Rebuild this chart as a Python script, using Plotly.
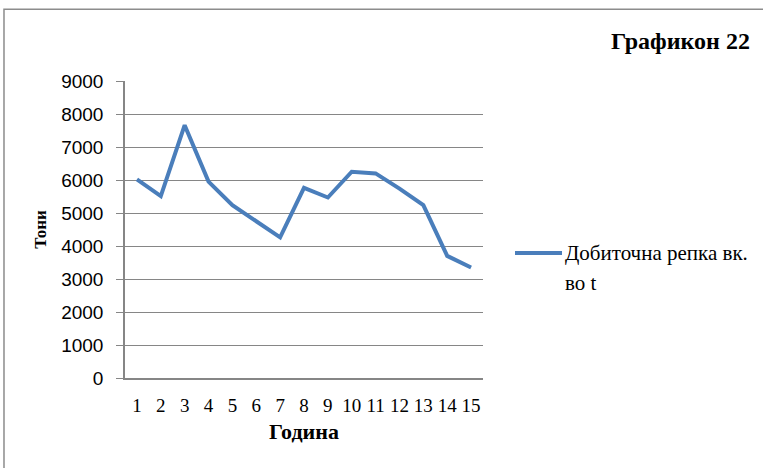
import plotly.graph_objects as go

years = [str(i) for i in range(1, 16)]
values = [6020, 5510, 7660, 5950, 5240, 4750, 4260, 5760, 5470, 6250, 6200, 5740, 5240, 3700, 3350]
legend_lines = ["Добиточна репка вк.", "во t"]
y_ticks = [0, 1000, 2000, 3000, 4000, 5000, 6000, 7000, 8000, 9000]
chart_title = "Графикон 22"
x_title = "Година"
y_title = "Тони"

SERIF = "Liberation Serif"
SANS = "Liberation Sans"
LINE_COLOR = "#4a7ebb"
GRID = "#868686"

fig = go.Figure()
fig.add_trace(go.Scatter(
    x=years, y=values, mode="lines", name=" ".join(legend_lines),
    line=dict(color=LINE_COLOR, width=4), showlegend=False,
))

fig.update_layout(
    width=763, height=468,
    margin=dict(l=125, r=280, t=81, b=90),
    paper_bgcolor="white", plot_bgcolor="white",
    font=dict(family=SERIF, size=17, color="black"),
    showlegend=False,
    xaxis=dict(type="category", range=[-0.5, 14.5], showgrid=False, showline=True,
               linecolor=GRID, linewidth=1.5, ticks="", ticklabelstandoff=9,
               tickfont=dict(family=SERIF, size=19, color="black"),
               title=dict(text="<b>" + x_title + "</b>",
                          font=dict(family=SERIF, size=22, color="black"), standoff=9)),
    yaxis=dict(range=[0, 9000], tickvals=y_ticks, showgrid=True, gridcolor=GRID,
               gridwidth=1.3, showline=True, linecolor=GRID, linewidth=1.5,
               ticks="outside", ticklen=7, tickcolor=GRID, tickwidth=1.3,
               zeroline=False, ticklabelstandoff=9,
               tickfont=dict(family=SANS, size=19, color="black"),
               title=dict(text="<b>" + y_title + "</b>",
                          font=dict(family=SERIF, size=17, color="black"), standoff=10)),
    annotations=[
        dict(text="<b>" + chart_title + "</b>", xref="paper", yref="paper",
             x=1.751, y=1.135, xanchor="right", yanchor="middle",
             showarrow=False, font=dict(family=SERIF, size=24, color="black")),
        dict(text=legend_lines[0], xref="paper", yref="paper",
             x=1.2235, y=0.4209, xanchor="left", yanchor="middle",
             showarrow=False, font=dict(family=SERIF, size=21, color="black")),
        dict(text=legend_lines[1], xref="paper", yref="paper",
             x=1.2235, y=0.3199, xanchor="left", yanchor="middle",
             showarrow=False, font=dict(family=SERIF, size=21, color="black")),
    ],
    shapes=[
        dict(type="rect", xref="paper", yref="paper", x0=-0.338, x1=1.9,
             y0=-0.5, y1=1.242, line=dict(color="#8c8c8c", width=1.5),
             fillcolor="rgba(0,0,0,0)", layer="below"),
        dict(type="line", xref="paper", yref="paper", x0=1.0894, x1=1.2207,
             y0=0.4209, y1=0.4209, line=dict(color=LINE_COLOR, width=4)),
    ],
)

fig.write_html("out.html", config={"displayModeBar": False},
               post_script="document.body.style.margin='0';")
